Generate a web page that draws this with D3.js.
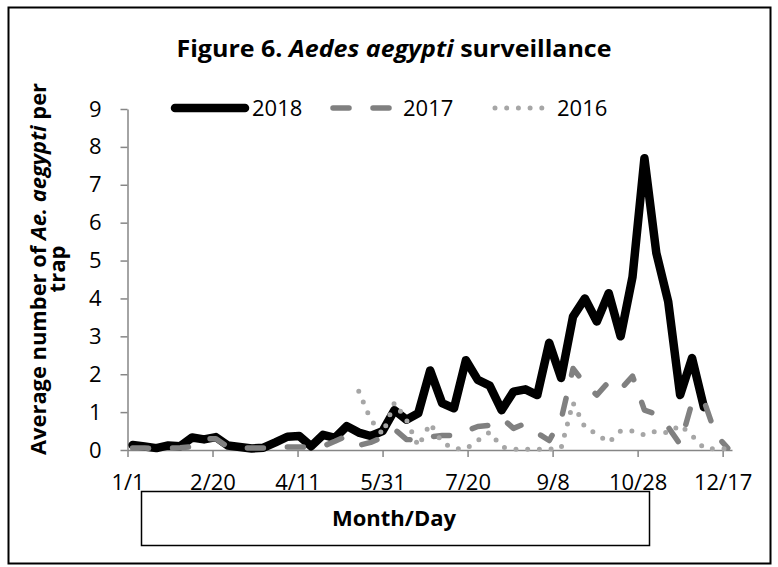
<!doctype html>
<meta charset="utf-8">
<style>
body { margin: 0; background: #fff; }
text { font-family: "Open Sans", sans-serif; fill: #000; }
.axis path, .axis line { stroke: #868686; stroke-width: 1.5; }
</style>
<body>
<script src="https://d3js.org/d3.v7.min.js"></script>
<script>

// week start (day of year, 1/1 = 0)
var days = [3,10,17,24,31,38,45,52,59,66,73,80,87,94,101,108,115,122,129,136,
            143,150,157,164,171,178,185,192,199,206,213,220,227,234,241,248,255,262,269,276,
            283,290,297,304,311,318,325,332,339,346,353];

var tickDays = [0,50,100,150,200,250,300,350];
var tickLabels = ["1/1","2/20","4/11","5/31","7/20","9/8","10/28","12/17"];
var yTicks = [0,1,2,3,4,5,6,7,8,9];

var y2018 = [0.13,0.09,0.05,0.12,0.1,0.33,0.28,0.34,0.12,0.08,
             0.04,0.06,0.2,0.35,0.37,0.1,0.4,0.32,0.63,0.46,
             0.37,0.5,1.05,0.8,0.97,2.1,1.24,1.1,2.37,1.85,
             1.7,1.05,1.54,1.6,1.45,2.83,1.9,3.52,4.0,3.39,
             4.14,3.0,4.57,7.7,5.2,3.91,1.45,2.43,1.13];

var y2017 = [0.05,0.05,0.03,0.05,0.06,0.09,0.3,0.3,0.08,0.05,
             0.05,0.05,0.05,0.08,0.08,0.07,0.1,0.23,0.37,0.12,
             0.2,0.33,0.55,0.28,0.26,0.35,0.38,0.38,0.5,0.62,
             0.65,0.85,0.57,0.7,0.45,0.25,0.8,2.15,1.75,1.45,
             1.8,1.6,1.95,1.05,0.95,0.6,0.15,1.25,1.3,0.4,0.05];

var y2016 = [null,null,null,null,null,null,null,null,null,null,
             null,null,null,null,null,null,null,null,null,1.55,
             0.8,0.42,1.25,0.8,0.1,0.7,0.2,0.03,0.03,0.25,
             0.47,0.08,0.02,0.02,0.02,0.02,0.05,1.25,0.6,0.42,
             0.2,0.5,0.5,0.4,0.5,0.45,0.66,0.38,0.05,0.03,0.03];

var seriesNames = ["2018","2017","2016"];

var W = 778, H = 567;

var svg = d3.select("body").append("svg")
    .attr("width", W)
    .attr("height", H);

// outer chart frame
svg.append("rect")
    .attr("x", 8.5).attr("y", 7.5)
    .attr("width", 762).attr("height", 556)
    .attr("fill", "none").attr("stroke", "#000").attr("stroke-width", 2);

var x = d3.scaleLinear().domain([0, 355.5]).range([127.5, 732]);
var y = d3.scaleLinear().domain([0, 9]).range([450, 109]);

// axes
svg.append("g")
    .attr("class", "axis")
    .attr("transform", "translate(0,450)")
    .call(d3.axisBottom(x).tickValues(tickDays)
          .tickFormat(function(d, i) { return tickLabels[i]; })
          .tickSize(7).tickSizeOuter(0).tickPadding(17))
    .selectAll("text")
    .style("font-size", "22px")
    .style("font-family", "Open Sans")
    .attr("fill", "#000");

svg.append("g")
    .attr("class", "axis")
    .attr("transform", "translate(127.5,0)")
    .call(d3.axisLeft(y).tickValues(yTicks)
          .tickSize(7).tickSizeOuter(0).tickPadding(19))
    .selectAll("text")
    .style("font-size", "22px")
    .style("font-family", "Open Sans")
    .attr("fill", "#000");

// lines
function makeLine(vals) {
  return d3.line()
    .defined(function(d) { return d != null; })
    .x(function(d, i) { return x(days[i]); })
    .y(function(d) { return y(d); })(vals);
}

var styles = [
  {color: "#000", w: 8.5, dash: null},
  {color: "#808080", w: 5.5, dash: "16,24"},
  {color: "#a6a6a6", w: 5, dash: "0,11.7"}
];
var allSeries = [y2018, y2017, y2016];

allSeries.forEach(function(vals, i) {
  svg.append("path")
    .attr("d", makeLine(vals))
    .attr("fill", "none")
    .attr("stroke", styles[i].color)
    .attr("stroke-width", styles[i].w)
    .attr("stroke-linejoin", "round")
    .attr("stroke-linecap", "round")
    .attr("stroke-dasharray", styles[i].dash);
});

// legend
var legX = [[175, 245, 252], [333, 397, 403], [495, 553, 557]];
seriesNames.forEach(function(name, i) {
  svg.append("line")
    .attr("x1", legX[i][0]).attr("x2", legX[i][1])
    .attr("y1", 108).attr("y2", 108)
    .attr("stroke", styles[i].color)
    .attr("stroke-width", styles[i].w)
    .attr("stroke-linecap", "round")
    .attr("stroke-dasharray", styles[i].dash);
  svg.append("text")
    .attr("x", legX[i][2]).attr("y", 116)
    .style("font-size", "22px")
    .text(name);
});

// title
var title = svg.append("text")
    .attr("x", 394).attr("y", 57)
    .attr("text-anchor", "middle")
    .attr("textLength", 435)
    .attr("lengthAdjust", "spacingAndGlyphs")
    .style("font-size", "23px")
    .style("font-weight", "bold");
title.append("tspan").text("Figure 6. ");
title.append("tspan").style("font-style", "italic").text("Aedes aegypti");
title.append("tspan").text(" surveillance");

// y axis title
var yt = svg.append("text")
    .attr("transform", "translate(46,269) rotate(-90)")
    .attr("text-anchor", "middle")
    .attr("textLength", 372)
    .attr("lengthAdjust", "spacingAndGlyphs")
    .style("font-size", "22px")
    .style("font-weight", "bold");
yt.append("tspan").text("Average number of ");
yt.append("tspan").style("font-style", "italic").text("Ae. aegypti");
yt.append("tspan").text(" per");

svg.append("text")
    .attr("transform", "translate(65,269) rotate(-90)")
    .attr("text-anchor", "middle")
    .style("font-size", "22px")
    .style("font-weight", "bold")
    .text("trap");

// x axis title box
svg.append("rect")
    .attr("x", 141.5).attr("y", 491.5)
    .attr("width", 508).attr("height", 54)
    .attr("fill", "#fff").attr("stroke", "#000").attr("stroke-width", 1.5);
svg.append("text")
    .attr("x", 394).attr("y", 526)
    .attr("text-anchor", "middle")
    .style("font-size", "22px")
    .style("font-weight", "bold")
    .text("Month/Day");

</script>
</body>
